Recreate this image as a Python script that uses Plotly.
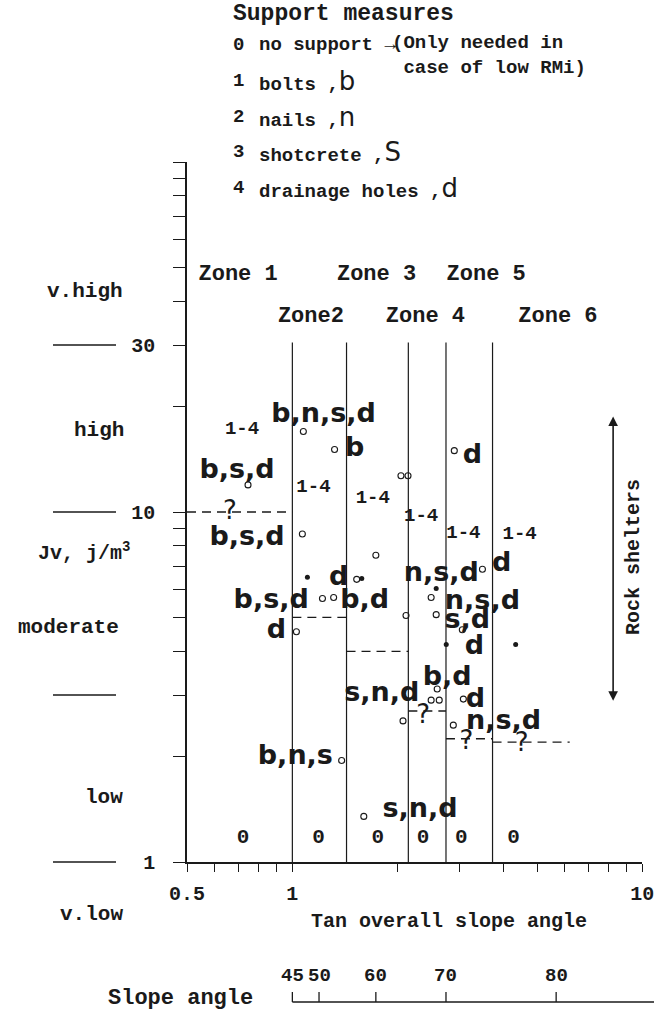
import numpy as np
import plotly.graph_objects as go

# ---------------- data ----------------
zone_boundary_deg = [45, 55, 65, 70, 75]
zone_line_top_jv = 30.5

zone_names = ["Zone 1", "Zone2", "Zone 3", "Zone 4", "Zone 5", "Zone 6"]
zone_name_tan = [0.70, 1.13, 1.74, 2.40, 3.58, 5.74]
zone_name_jv = [47.7, 36.1, 47.7, 36.1, 47.7, 36.1]

# dashed upper limit of the "no support" field in each zone
limit_tan0 = [0.5, 1.0, 1.428, 2.145, 2.747, 3.732]
limit_tan1 = [1.0, 1.428, 2.145, 2.747, 3.732, 6.2]
limit_jv = [10, 5, 4, 2.7, 2.25, 2.2]

# observed slopes (open circles) and filled dots
open_tan = [0.747, 1.068, 1.027, 1.075, 1.320, 1.527, 1.219, 1.312, 1.732, 1.383,
            1.600, 2.043, 2.140, 2.112, 3.492, 2.492, 2.576, 3.059, 3.080, 2.593,
            2.492, 2.628, 2.071, 2.883, 2.902]
open_jv = [11.95, 8.65, 4.55, 16.98, 15.08, 6.42, 5.66, 5.70, 7.52, 1.95,
           1.35, 12.69, 12.69, 5.06, 6.86, 5.70, 5.09, 4.61, 2.92, 3.12,
           2.90, 2.90, 2.53, 2.46, 14.97]
dot_tan = [1.104, 1.579, 2.576, 2.752, 4.345]
dot_jv = [6.51, 6.46, 6.05, 4.18, 4.18]

# support measure codes written in the chart
measure_text = ["b,n,s,d", "b,s,d", "b,s,d", "b,s,d", "d", "b", "d", "b,d", "d",
                "n,s,d", "d", "n,s,d", "s,d", "d", "b,d", "d", "s,n,d", "n,s,d",
                "b,n,s", "s,n,d"]
measure_tan = [1.228, 0.695, 0.742, 0.870, 0.90, 1.507, 1.356, 1.610, 3.268,
               2.663, 3.960, 3.492, 3.162, 3.312, 2.770, 3.334, 1.802, 4.013,
               1.020, 2.317]
measure_jv = [18.87, 13.11, 8.42, 5.55, 4.55, 15.07, 6.46, 5.55, 14.47,
              6.63, 7.09, 5.51, 4.86, 4.12, 3.35, 2.90, 3.02, 2.51,
              1.99, 1.41]

range_text = ["1-4", "1-4", "1-4", "1-4", "1-4", "1-4"]
range_tan = [0.718, 1.149, 1.698, 2.333, 3.080, 4.461]
range_jv = [17.2, 11.8, 10.97, 9.74, 8.70, 8.65]

zero_text = ["0", "0", "0", "0", "0", "0"]
zero_tan = [0.723, 1.188, 1.755, 2.364, 3.039, 4.287]
zero_jv = [1.17, 1.17, 1.17, 1.17, 1.17, 1.17]

q_text = ["?", "?", "?", "?"]
q_tan = [0.663, 2.364, 3.142, 4.521]
q_jv = [10.0, 2.60, 2.20, 2.16]

x_tickvals = [0.5, 0.6, 0.7, 0.8, 0.9, 1, 2, 3, 4, 5, 6, 7, 8, 9, 10]
x_ticktext = ["0.5", "", "", "", "", "1", "", "", "", "", "", "", "", "", "10"]
y_tickvals = [1, 2, 3, 4, 5, 6, 7, 8, 9, 10, 20, 30, 40, 50, 60, 70, 80, 90, 100]
y_ticktext = ["1", "", "", "", "", "", "", "", "", "10", "", "30", "", "", "", "", "", "", ""]

jv_class_names = ["v.high", "high", "moderate", "low", "v.low"]
jv_class_bounds = [30, 10, 3, 1]

slope_angles = [45, 50, 60, 70, 80]

support_codes = ["0", "1", "2", "3", "4"]
support_names = ["no support \u2192", "bolts ,", "nails ,", "shotcrete ,", "drainage holes ,"]
support_letters = ["", "b", "n", "S", "d"]

rock_shelter_tan = 8.25
rock_shelter_jv = [18.75, 2.86]

# ---------------- layout geometry ----------------
W, H = 654, 1010
L, T = 187, 162
PW, PH = 467, 700
XR = [np.log10(0.5), 1.0]
YR = [0.0, 2.0]
DEC = PH / (YR[1] - YR[0])           # px per decade (same on both axes)
XDOM = (XR[1] - XR[0]) * DEC / PW


def px(x):
    return (x - L) / PW


def py(y):
    return (T + PH - y) / PH


def tan_to_paper(t):
    return (np.log10(t) - XR[0]) / (XR[1] - XR[0]) * XDOM


MONO = "Liberation Mono"
SANS = "DejaVu Sans"
INK = "#1a1a1a"

fig = go.Figure()

# zone boundaries
for a in zone_boundary_deg:
    t = np.tan(np.radians(a))
    fig.add_trace(go.Scatter(x=[t, t], y=[1, zone_line_top_jv], mode="lines",
                             line=dict(color=INK, width=1.2), hoverinfo="skip"))

# dashed limits
for x0, x1, j in zip(limit_tan0, limit_tan1, limit_jv):
    fig.add_trace(go.Scatter(x=[x0, x1], y=[j, j], mode="lines",
                             line=dict(color=INK, width=1.3, dash="9px,6px"), hoverinfo="skip"))

# markers
fig.add_trace(go.Scatter(x=open_tan, y=open_jv, mode="markers",
                         marker=dict(symbol="circle-open", size=6, color=INK, line=dict(width=1.1))))
fig.add_trace(go.Scatter(x=dot_tan, y=dot_jv, mode="markers",
                         marker=dict(symbol="circle", size=5, color=INK)))

# texts
fig.add_trace(go.Scatter(x=measure_tan, y=measure_jv, mode="text", text=measure_text,
                         textposition="middle center",
                         textfont=dict(family=SANS, size=27, color=INK, weight="bold")))
fig.add_trace(go.Scatter(x=range_tan, y=range_jv, mode="text", text=range_text,
                         textposition="middle center",
                         textfont=dict(family=MONO, size=19, color=INK, weight="bold")))
fig.add_trace(go.Scatter(x=zero_tan, y=zero_jv, mode="text", text=zero_text,
                         textposition="middle center",
                         textfont=dict(family=MONO, size=21, color=INK, weight="bold")))
fig.add_trace(go.Scatter(x=q_tan, y=q_jv, mode="text", text=q_text,
                         textposition="middle center",
                         textfont=dict(family=SANS, size=26, color=INK)))
fig.add_trace(go.Scatter(x=zone_name_tan, y=zone_name_jv, mode="text", text=zone_names,
                         textposition="middle center",
                         textfont=dict(family=MONO, size=22, color=INK, weight="bold")))

ann = []
shapes = []

# legend of support measures
ann.append(dict(text="Support measures", xref="paper", yref="paper", x=px(231), y=py(14),
                xanchor="left", yanchor="middle", showarrow=False,
                font=dict(family=MONO, size=23, color=INK, weight="bold")))
row_y = [45, 81, 117, 152, 188]
for code, name, letter, yy in zip(support_codes, support_names, support_letters, row_y):
    ann.append(dict(text=code, xref="paper", yref="paper", x=px(238), y=py(yy),
                    xanchor="center", yanchor="middle", showarrow=False,
                    font=dict(family=MONO, size=19, color=INK, weight="bold")))
    txt = name
    if letter:
        txt += "<span style='font-family:DejaVu Sans;font-size:26px;font-weight:normal'>" + letter + "</span>"
    ann.append(dict(text=txt, xref="paper", yref="paper", x=px(257), y=py(yy),
                    xanchor="left", yanchor="middle", showarrow=False,
                    font=dict(family=MONO, size=19, color=INK, weight="bold")))
ann.append(dict(text="(Only needed in<br> case of low RMi)", xref="paper", yref="paper",
                x=px(390), y=py(56), xanchor="left", yanchor="middle", showarrow=False,
                align="left", font=dict(family=MONO, size=19, color=INK, weight="bold")))

# Jv classes on the left
class_pos = [(85, 291), (99, 430), (68, 627), (104, 797), (91, 915)]
for name, (cx, cy) in zip(jv_class_names, class_pos):
    ann.append(dict(text=name, xref="paper", yref="paper", x=px(cx), y=py(cy),
                    xanchor="center", yanchor="middle", showarrow=False,
                    font=dict(family=MONO, size=21, color=INK, weight="bold")))
ann.append(dict(text="Jv, j/m<sup>3</sup>", xref="paper", yref="paper", x=px(84), y=py(552),
                xanchor="center", yanchor="middle", showarrow=False,
                font=dict(family=MONO, size=20, color=INK, weight="bold")))
for b in jv_class_bounds:
    yb = np.log10(b) / (YR[1] - YR[0])
    shapes.append(dict(type="line", xref="paper", yref="paper", x0=px(53), x1=px(116),
                       y0=yb, y1=yb, line=dict(color=INK, width=1.3)))

# x-axis title
ann.append(dict(text="Tan overall slope angle", xref="paper", yref="paper", x=px(449), y=py(921),
                xanchor="center", yanchor="middle", showarrow=False,
                font=dict(family=MONO, size=20, color=INK, weight="bold")))

# slope angle scale
ann.append(dict(text="Slope angle", xref="paper", yref="paper", x=px(180), y=py(998),
                xanchor="center", yanchor="middle", showarrow=False,
                font=dict(family=MONO, size=22, color=INK, weight="bold")))
shapes.append(dict(type="line", xref="paper", yref="paper",
                   x0=tan_to_paper(np.tan(np.radians(slope_angles[0]))), x1=1.0,
                   y0=py(1002), y1=py(1002), line=dict(color=INK, width=1.4)))
for a in slope_angles:
    t = np.tan(np.radians(a))
    shapes.append(dict(type="line", xref="paper", yref="paper", x0=tan_to_paper(t), x1=tan_to_paper(t),
                       y0=py(1002), y1=py(992), line=dict(color=INK, width=1.3)))
    ann.append(dict(text=str(a), xref="x", yref="paper", x=np.log10(t), y=py(976),
                    xanchor="center", yanchor="middle", showarrow=False,
                    font=dict(family=MONO, size=19, color=INK, weight="bold")))

# rock shelters
ann.append(dict(text="", x=np.log10(rock_shelter_tan), y=np.log10(rock_shelter_jv[0]),
                ax=np.log10(rock_shelter_tan), ay=np.log10(rock_shelter_jv[1]),
                xref="x", yref="y", axref="x", ayref="y", showarrow=True,
                arrowhead=2, startarrowhead=2, arrowside="end+start", arrowsize=1.2,
                arrowwidth=1.6, arrowcolor=INK, standoff=0, startstandoff=0))
ann.append(dict(text="Rock shelters", x=np.log10(9.40), y=np.log10(7.43), xref="x", yref="y",
                textangle=-90, showarrow=False, xanchor="center", yanchor="middle",
                font=dict(family=MONO, size=20, color=INK, weight="bold")))

fig.update_layout(
    width=W, height=H, autosize=False,
    margin=dict(l=L, r=W - L - PW, t=T, b=H - T - PH, pad=0, autoexpand=False),
    paper_bgcolor="white", plot_bgcolor="white",
    showlegend=False,
    annotations=ann, shapes=shapes,
    xaxis=dict(type="log", range=XR, domain=[0, XDOM], showgrid=False, zeroline=False,
               automargin=False,
               showline=True, linecolor=INK, linewidth=1.5, mirror=False,
               ticks="outside", ticklen=8, tickwidth=1.3, tickcolor=INK,
               tickmode="array", tickvals=x_tickvals, ticktext=x_ticktext,
               ticklabelstandoff=4, ticklabeloverflow="allow",
               tickfont=dict(family=MONO, size=20, color=INK, weight="bold")),
    yaxis=dict(type="log", range=YR, domain=[0, 1], showgrid=False, zeroline=False,
               automargin=False,
               showline=True, linecolor=INK, linewidth=1.5,
               ticks="outside", ticklen=12, tickwidth=1.3, tickcolor=INK,
               tickmode="array", tickvals=y_tickvals, ticktext=y_ticktext,
               ticklabelstandoff=14,
               tickfont=dict(family=MONO, size=20, color=INK, weight="bold")),
)

fig.write_html("out.html", config={"displayModeBar": False},
               post_script="document.body.style.margin='0px';document.body.style.padding='0px';")
